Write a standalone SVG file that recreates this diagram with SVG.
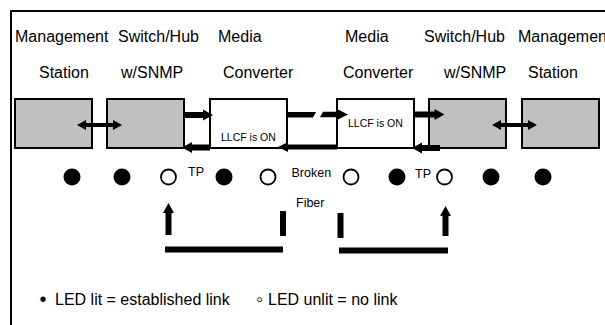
<svg xmlns="http://www.w3.org/2000/svg" width="605" height="325" viewBox="0 0 605 325">
<style>
text{font-family:"Liberation Sans",Arial,"DejaVu Sans",sans-serif;fill:#000}
.lbl{font-size:16px}
.bul{font-size:20px}
.small{font-size:10.5px}
.note{font-size:12.5px}
.gray{fill:#c0c0c0;stroke:#000;stroke-width:2}
.white{fill:#fff;stroke:#000;stroke-width:2}
.arr{fill:#000;stroke:none}
.on{fill:#000}
.off{fill:#fff;stroke:#000;stroke-width:1.8}
</style>
<rect x="11" y="11" width="700" height="400" fill="none" stroke="#000" stroke-width="2"/>

<g id="station-left">
<text class="lbl" x="15" y="42">Management</text>
<text class="lbl" x="39" y="78">Station</text>
<rect class="gray" x="15" y="99" width="77" height="49"/>
</g>
<g id="switch-left">
<text class="lbl" x="118" y="42">Switch/Hub</text>
<text class="lbl" x="121" y="78">w/SNMP</text>
<rect class="gray" x="107" y="99" width="77" height="49"/>
</g>
<g id="converter-left">
<text class="lbl" x="218" y="42">Media</text>
<text class="lbl" x="223" y="78">Converter</text>
<rect class="white" x="210" y="99" width="77" height="49"/>
<text class="small" x="221" y="140.5">LLCF is ON</text>
</g>
<g id="converter-right">
<text class="lbl" x="345" y="42">Media</text>
<text class="lbl" x="343" y="78">Converter</text>
<rect class="white" x="337" y="99" width="77" height="49"/>
<text class="small" x="348" y="127">LLCF is ON</text>
</g>
<g id="switch-right">
<text class="lbl" x="424" y="42">Switch/Hub</text>
<text class="lbl" x="444" y="78">w/SNMP</text>
<rect class="gray" x="429" y="99" width="77" height="49"/>
</g>
<g id="station-right">
<text class="lbl" x="518" y="42">Management</text>
<text class="lbl" x="528" y="78">Station</text>
<rect class="gray" x="522" y="99" width="77" height="49"/>
</g>

<g id="connectors">
<path class="arr" d="M77,125 L86,120 L86,123 L113,123 L113,120 L122,125 L113,130 L113,127 L86,127 L86,130 Z"/>
<path class="arr" d="M184,112 L203,112 L203,109.5 L213,115 L203,120.5 L203,118 L184,118 Z"/>
<path class="arr" d="M210,144.5 L192,144.5 L192,142 L182,147.5 L192,153 L192,150.5 L210,150.5 Z"/>
<path class="arr" d="M287,112 L316,112 L313,117.5 L287,117.5 Z"/>
<path class="arr" d="M323,111.8 L338,111.8 L338,109.5 L348,114.5 L338,119.5 L338,117.2 L320,117.2 Z"/>
<path class="arr" d="M337,144.5 L288,144.5 L288,142 L278,147 L288,152 L288,149.5 L337,149.5 Z"/>
<path class="arr" d="M414,111.5 L434.5,111.5 L434.5,109 L444.5,114.5 L434.5,120 L434.5,117.5 L414,117.5 Z"/>
<path class="arr" d="M440,145 L422,145 L422,142.5 L412,148 L422,153.5 L422,151 L440,151 Z"/>
<path class="arr" d="M492,125 L501,120 L501,123 L528,123 L528,120 L537,125 L528,130 L528,127 L501,127 L501,130 Z"/>
<path class="arr" d="M165.5,235 L165.5,213 L163,213 L168.5,203 L174,213 L171.5,213 L171.5,235 Z"/>
<rect class="arr" x="165" y="246.5" width="118" height="6"/>
<rect class="arr" x="280" y="211" width="6" height="25"/>
<rect class="arr" x="337.5" y="213" width="6" height="25"/>
<rect class="arr" x="339" y="247.5" width="109" height="6"/>
<path class="arr" d="M442.5,236 L442.5,216 L440,216 L445.5,206 L451,216 L448.5,216 L448.5,236 Z"/>
</g>

<g id="leds">
<circle class="on" cx="72" cy="177" r="8.5"/>
<circle class="on" cx="122" cy="177" r="8.5"/>
<circle class="off" cx="168.5" cy="177" r="7.5"/>
<circle class="on" cx="224" cy="177" r="8.5"/>
<circle class="off" cx="268" cy="177" r="7.5"/>
<circle class="off" cx="351" cy="177" r="7.5"/>
<circle class="on" cx="397" cy="177" r="8.5"/>
<circle class="off" cx="444.5" cy="177" r="7.5"/>
<circle class="on" cx="491" cy="177" r="8.5"/>
<circle class="on" cx="543" cy="177" r="8.5"/>
</g>

<g id="labels">
<text class="note" x="188" y="175.5">TP</text>
<text class="note" x="291.5" y="177">Broken</text>
<text class="note" x="296" y="207">Fiber</text>
<text class="note" x="415" y="178">TP</text>
</g>

<g id="legend">
<text class="lbl" y="305"><tspan class="bul" x="39.5" y="306">•</tspan><tspan x="55" y="305">LED lit = established link</tspan></text>
<text class="lbl" y="305"><tspan class="bul" x="256" y="306">◦</tspan><tspan x="268" y="305">LED unlit = no link</tspan></text>
</g>
</svg>
